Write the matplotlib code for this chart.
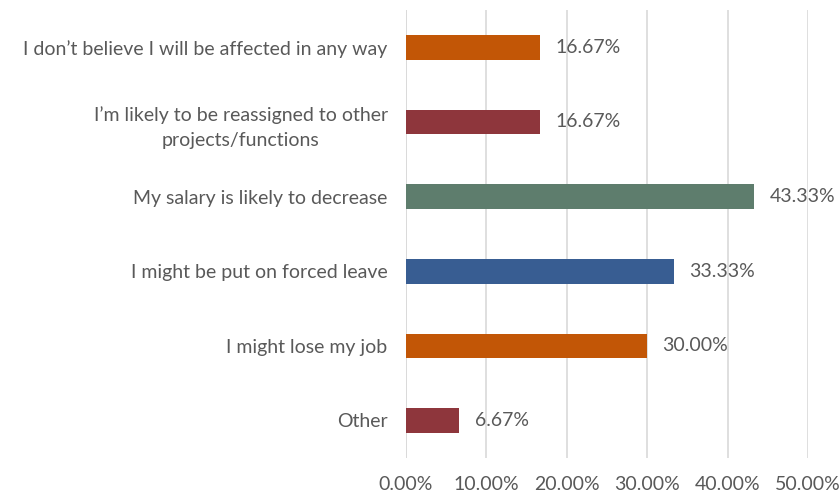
import numpy as np
import matplotlib.pyplot as plt

categories = [
    "I don\u2019t believe I will be affected in any way",
    "I\u2019m likely to be reassigned to other\nprojects/functions",
    "My salary is likely to decrease",
    "I might be put on forced leave",
    "I might lose my job",
    "Other",
]
values = [16.67, 16.67, 43.33, 33.33, 30.00, 6.67]
colors = ["#C25606", "#8E363C", "#5E7D6D", "#385D92", "#C25606", "#8E363C"]
xticks = [0, 10, 20, 30, 40, 50]

plt.rcParams['font.family'] = ['Lato', 'DejaVu Sans']
text_color = "#595959"
fs = 14

fig = plt.figure(figsize=(8.4, 4.96), dpi=100)
ax = fig.add_axes([0.483, 0.077, 0.479, 0.903])

y = np.arange(len(categories))
ax.barh(y, values, height=0.33, color=colors, zorder=3)
for yi, v in zip(y, values):
    ax.text(v + 1.9, yi, f"{v:.2f}%", va='center', ha='left',
            fontsize=fs, color=text_color)

ax.set_ylim(len(categories) - 0.5, -0.5)
ax.set_xlim(0, 50)
ax.set_yticks(y)
ax.set_yticklabels(categories, fontsize=fs, color=text_color,
                   ha='right', multialignment='center', linespacing=1.6)
ax.tick_params(axis='y', length=0, pad=13)
ax.set_xticks(xticks)
ax.set_xticklabels([f"{t:.2f}%" for t in xticks], fontsize=fs, color=text_color)
ax.tick_params(axis='x', length=0, pad=13)

ax.grid(axis='x', color='#D9D9D9', linewidth=1.2, zorder=0)
for s in ax.spines.values():
    s.set_visible(False)
ax.axvline(0, color='#D9D9D9', linewidth=1.2, zorder=1)

fig.savefig("out.png", dpi=100)
